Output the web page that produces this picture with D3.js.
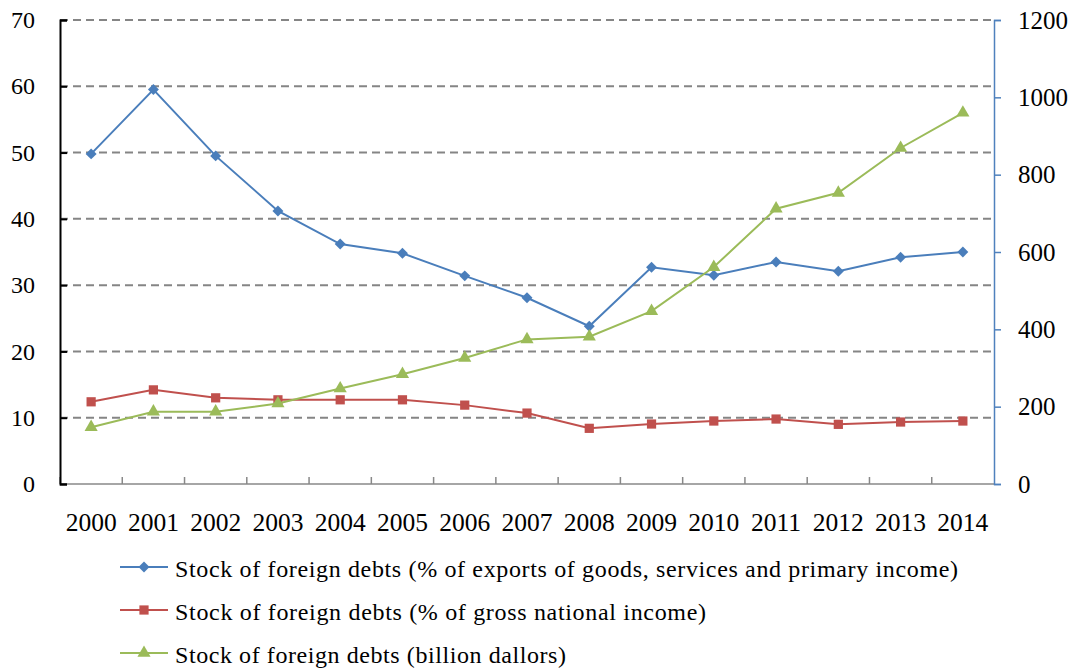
<!DOCTYPE html>
<html>
<head>
<meta charset="utf-8">
<script src="https://cdn.jsdelivr.net/npm/d3@7"></script>
<style>
  body { margin: 0; background: #fff; }
  text { font-family: "Liberation Serif", "Times New Roman", serif; fill: #000; }
</style>
</head>
<body>
<script>
'use strict';

var years = ['2000','2001','2002','2003','2004','2005','2006','2007','2008','2009','2010','2011','2012','2013','2014'];
var pctExports = [49.8, 59.5, 49.5, 41.2, 36.2, 34.8, 31.4, 28.1, 23.8, 32.7, 31.5, 33.5, 32.1, 34.2, 35.0];
var pctGni     = [12.4, 14.2, 13.0, 12.7, 12.7, 12.7, 11.9, 10.7, 8.4, 9.05, 9.5, 9.8, 9.0, 9.35, 9.5];
var billions   = [147, 187, 187, 208, 247, 284, 326, 374, 381, 447, 561, 712, 753, 869, 960];
var leftTicks  = [0, 10, 20, 30, 40, 50, 60, 70];
var rightTicks = [0, 200, 400, 600, 800, 1000, 1200];
var legendLabels = [
  'Stock of foreign debts (% of exports of goods, services and primary income)',
  'Stock of foreign debts (% of gross national income)',
  'Stock of foreign debts (billion dallors)'
];

var width = 1076, height = 670;
var plotLeft = 60, plotRight = 994, plotTop = 20, plotBottom = 484;

var svg = d3.select('body').append('svg')
    .attr('width', width)
    .attr('height', height);

var x = d3.scaleBand().domain(years).range([plotLeft, plotRight]);
var yL = d3.scaleLinear().domain([0, 70]).range([plotBottom, plotTop]);
var yR = d3.scaleLinear().domain([0, 1200]).range([plotBottom, plotTop]);
var cx = function(d, i) { return x(years[i]) + x.bandwidth() / 2; };

// gridlines
svg.append('g').selectAll('line')
  .data(leftTicks.slice(1))
  .enter().append('line')
  .attr('x1', plotLeft).attr('x2', plotRight)
  .attr('y1', function(d) { return yL(d); })
  .attr('y2', function(d) { return yL(d); })
  .attr('stroke', '#858585')
  .attr('stroke-width', 2)
  .attr('stroke-dasharray', '8,5');

// x axis (ticks between categories, pointing up)
svg.append('line')
  .attr('x1', plotLeft).attr('x2', plotRight)
  .attr('y1', plotBottom).attr('y2', plotBottom)
  .attr('stroke', '#888').attr('stroke-width', 1.5);
svg.append('g').selectAll('line')
  .data(years)
  .enter().append('line')
  .attr('x1', function(d) { return x(d); })
  .attr('x2', function(d) { return x(d); })
  .attr('y1', plotBottom).attr('y2', plotBottom - 7)
  .attr('stroke', '#888').attr('stroke-width', 1.5);
svg.append('g').selectAll('text')
  .data(years)
  .enter().append('text')
  .attr('x', function(d) { return x(d) + x.bandwidth() / 2; })
  .attr('y', 531)
  .attr('text-anchor', 'middle')
  .style('font-size', '25.5px')
  .text(function(d) { return d; });

// left axis
var gl = svg.append('g')
  .attr('transform', 'translate(' + plotLeft + ',0)')
  .call(d3.axisRight(yL).tickValues(leftTicks).tickSize(7).tickFormat(d3.format('d')));
gl.select('.domain').attr('stroke', '#000').attr('stroke-width', 2);
gl.selectAll('.tick line').attr('stroke', '#000').attr('stroke-width', 2);
gl.selectAll('.tick text')
  .attr('x', -25).attr('text-anchor', 'end')
  .style('font-size', '24px').style('font-family', '"Liberation Serif", serif').attr('fill', '#000');

// right axis
var gr = svg.append('g')
  .attr('transform', 'translate(' + plotRight + ',0)')
  .call(d3.axisRight(yR).tickValues(rightTicks).tickSize(7).tickFormat(d3.format('d')));
gr.select('.domain').attr('stroke', '#4F81BD').attr('stroke-width', 1.5);
gr.selectAll('.tick line').attr('stroke', '#4F81BD').attr('stroke-width', 1.5);
gr.selectAll('.tick text')
  .attr('x', 24)
  .style('font-size', '25px').style('font-family', '"Liberation Serif", serif').attr('fill', '#000');

var diamond = {
  draw: function(ctx, size) {
    var r = Math.sqrt(size / 2);
    ctx.moveTo(0, -r); ctx.lineTo(r, 0); ctx.lineTo(0, r); ctx.lineTo(-r, 0); ctx.closePath();
  }
};

var series = [
  { values: pctExports, scale: yL, color: '#4A7EBB', symbol: diamond,           size: 60 },
  { values: pctGni,     scale: yL, color: '#C0504D', symbol: d3.symbolSquare,   size: 85 },
  { values: billions,   scale: yR, color: '#9BBB59', symbol: d3.symbolTriangle, size: 75 }
];

series.forEach(function(s) {
  var line = d3.line()
    .x(cx)
    .y(function(d) { return s.scale(d); });
  svg.append('path')
    .datum(s.values)
    .attr('d', line)
    .attr('fill', 'none')
    .attr('stroke', s.color)
    .attr('stroke-width', 2);
  svg.append('g').selectAll('path')
    .data(s.values)
    .enter().append('path')
    .attr('transform', function(d, i) { return 'translate(' + cx(d, i) + ',' + s.scale(d) + ')'; })
    .attr('d', d3.symbol().type(s.symbol).size(s.size))
    .attr('fill', s.color);
});

// legend
var legendY = [567, 610, 653];
var legendWidth = [783, 531, 391];
series.forEach(function(s, i) {
  var g = svg.append('g').attr('transform', 'translate(0,' + legendY[i] + ')');
  g.append('line')
    .attr('x1', 120).attr('x2', 168)
    .attr('stroke', s.color).attr('stroke-width', 2);
  g.append('path')
    .attr('transform', 'translate(144,0)')
    .attr('d', d3.symbol().type(s.symbol).size(s.size))
    .attr('fill', s.color);
  g.append('text')
    .attr('x', 175).attr('y', 10)
    .attr('textLength', legendWidth[i])
    .attr('lengthAdjust', 'spacing')
    .style('font-size', '24px')
    .text(legendLabels[i]);
});
</script>
</body>
</html>
